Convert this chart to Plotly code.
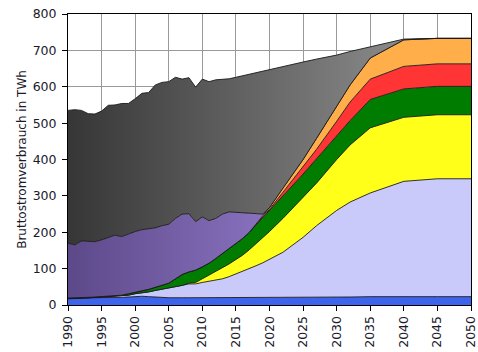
import plotly.graph_objects as go

years = list(range(1990, 2021)) + [2022, 2025, 2027, 2030, 2032, 2035, 2040, 2045, 2050]

# layer thicknesses in TWh (bottom to top)
blue = [17, 17, 18, 19, 20, 21, 22, 21, 21, 22, 24, 24, 23, 21, 21, 20, 21, 20, 20, 20,
        20, 20, 20, 20, 21, 21, 21, 21, 21, 21, 21,
        21, 22, 22, 22, 22, 23, 24, 23, 23]
lavender = [1, 1, 1, 1, 1, 1, 1, 2, 3, 5, 7, 9, 13, 19, 22, 26, 29, 34, 38, 38,
            42, 45, 49, 52, 57, 64, 71, 79, 87, 95, 104,
            124, 164, 196, 238, 261, 285, 316, 324, 324]
yellow = [0] * 18 + [2, 4, 10, 17, 23, 31, 35, 40, 45, 52, 60, 69, 77,
                     93, 109, 117, 140, 157, 179, 176, 176, 176]
green = [1, 1, 1, 1, 1, 1, 1, 2, 3, 4, 5, 6, 7, 8, 10, 14, 22, 30, 31, 34,
         33, 33, 36, 39, 42, 45, 46, 48, 52, 55, 56,
         60, 65, 67, 65, 67, 78, 78, 78, 78]
red = [0] * 28 + [1, 2, 5, 12, 20, 26, 40, 51, 56, 62, 62, 62]
orange = [0] * 28 + [1, 2, 5, 12, 20, 30, 40, 47, 58, 73, 70, 70]
purple = [151, 146, 156, 153, 152, 156, 162, 167, 161, 165, 166, 168, 167, 164, 165, 162,
          166, 166, 160, 133, 137, 117, 110, 108, 101, 85, 71, 53, 30, 6, 0,
          0, 0, 0, 0, 0, 0, 0, 0, 0]
gray = [365, 372, 359, 352, 351, 354, 363, 358, 366, 358, 365, 375, 374, 393, 394, 392,
        388, 371, 374, 370, 379, 382, 381, 370, 366, 371, 376, 381, 386, 393, 379,
        333, 268, 218, 142, 92, 31, 2, 0, 0]

x_ticks = list(range(1990, 2051, 5))
y_ticks = list(range(0, 801, 100))

layers = [
    ("blue", blue, "#3d64ea", None),
    ("lavender", lavender, "#cacafa", None),
    ("yellow", yellow, "#ffff1a", None),
    ("green", green, "#007d00", None),
    ("red", red, "#ff3434", None),
    ("orange", orange, "#ffae4a", None),
    ("purple", purple, "#7258a0", ("#5c4989", "#8a72bf", 1990, 2020)),
    ("gray", gray, "#5a5a5a", ("#363636", "#8e8e8e", 1990, 2042)),
]

fig = go.Figure()
for name, vals, col, grad in layers:
    kw = dict(
        x=years, y=vals, name=name, stackgroup="one", mode="lines",
        line=dict(color="#1a1a1a", width=0.9), fillcolor=col, hoverinfo="skip",
    )
    if grad:
        kw["fillgradient"] = dict(type="horizontal",
                                  colorscale=[[0, grad[0]], [1, grad[1]]],
                                  start=grad[2], stop=grad[3])
    fig.add_trace(go.Scatter(**kw))

font = "DejaVu Sans, Verdana, sans-serif"
fig.update_layout(
    width=478, height=352,
    margin=dict(l=68, r=7, t=14, b=47),
    plot_bgcolor="white", paper_bgcolor="white",
    showlegend=False,
    font=dict(family=font, size=12.5, color="#1a1a2a"),
)
fig.update_xaxes(
    range=[1990, 2050], tickvals=x_ticks, ticktext=[str(v) for v in x_ticks],
    tickangle=-90, ticks="outside", ticklen=5, tickcolor="black",
    showgrid=True, gridcolor="#9a9a9a", gridwidth=1,
    showline=True, linecolor="black", linewidth=1, mirror=True,
    zeroline=False, automargin=False, ticklabeloverflow="allow",
)
fig.update_yaxes(
    range=[0, 800], tickvals=y_ticks, ticks="outside", ticklen=5, tickcolor="black",
    showgrid=True, gridcolor="#9a9a9a", gridwidth=1,
    showline=True, linecolor="black", linewidth=1, mirror=True,
    zeroline=False, automargin=False, ticklabelstandoff=3,
    title=dict(text="Bruttostromverbrauch in TWh", font=dict(size=12), standoff=3),
)
fig.write_html("out.html")
